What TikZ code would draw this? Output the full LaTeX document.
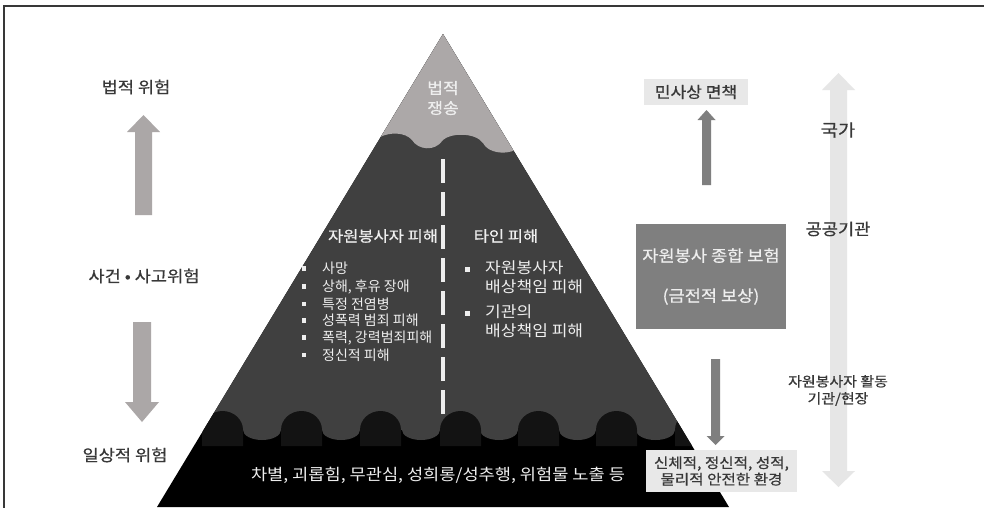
\documentclass[tikz,border=0pt]{standalone}
\usepackage{fontspec}
\newfontfamily\kr{Noto Sans CJK KR}
\newfontfamily\krw[FakeStretch=1.1]{Noto Sans CJK KR}
\newfontfamily\krb[FakeStretch=1.1,FakeBold=0.6]{Noto Sans CJK KR}
\usetikzlibrary{calc}
\definecolor{topgray}{HTML}{ACA8A8}
\definecolor{midgray}{HTML}{404040}
\definecolor{humpc}{HTML}{131313}
\definecolor{arrowgray}{HTML}{ABA7A7}
\definecolor{boxgray}{HTML}{7F7F7F}
\definecolor{lightbox}{HTML}{E8E8E8}
\definecolor{pale}{HTML}{E6E6E6}
\definecolor{txt}{HTML}{383838}
\definecolor{wtxt}{HTML}{EEEEEE}
\newcommand\vblockarrow[6]{%
  \fill[#1] ($(#2)+(-#4,0)$) -- ($(#3)+(-#4,#6)$) -- ($(#3)+(-#5,#6)$) -- (#3)
    -- ($(#3)+(#5,#6)$) -- ($(#3)+(#4,#6)$) -- ($(#2)+(#4,0)$) -- cycle;}
\begin{document}
\begin{tikzpicture}[x=1pt,y=-1pt,
  lab/.style={font=\krb\fontsize{16}{18}\selectfont, text=txt, inner sep=0pt, align=center},
  slab/.style={font=\krb\fontsize{13.6}{17}\selectfont, text=txt, inner sep=0pt, align=center},
  whead/.style={font=\krb\fontsize{15}{18}\selectfont, text=wtxt, inner sep=0pt},
  litem/.style={font=\kr\fontsize{14}{17}\selectfont, text=wtxt, inner sep=0pt, anchor=west},
  ritem/.style={font=\krw\fontsize{15.5}{19}\selectfont, text=wtxt, inner sep=0pt, anchor=west, align=left},
  bul/.style={fill=wtxt, inner sep=0pt, minimum size=4.5pt, rectangle},
  lbox/.style={fill=lightbox, inner sep=0pt, text=txt, align=center}
]
\useasboundingbox (0,0) rectangle (984,507);
\fill[white] (0,0) rectangle (984,507);
% frame
\draw[line width=2.2pt, color=txt] (4,508) -- (4,6) -- (985,6);

% pyramid
\coordinate (apex) at (443,34);
\coordinate (bl) at (157,507);
\coordinate (br) at (729,507);
\begin{scope}
  \clip (apex) -- (br) -- (bl) -- cycle;
  \fill[black] (100,0) rectangle (800,510);
  \fill[midgray] (100,0) rectangle (800,430);
  \foreach \a/\b in {243/281,322/360,402/440,480/518,559/596,636/675}
    \fill[midgray] ({(\a+\b)/2},430) ellipse [x radius={(\b-\a)/2}, y radius=10];
  \foreach \a in {202,281,360,440,518,596,675}
    \fill[humpc] (\a,446) -- (\a,430) .. controls (\a,419.5) and (\a+9.2,411) .. (\a+20.5,411)
      .. controls (\a+31.8,411) and (\a+41,419.5) .. (\a+41,430) -- (\a+41,446) -- cycle;
  \fill[topgray] (300,0) -- (600,0) -- (600,150) -- (515,150)
    .. controls (505,155) and (488,153) .. (483,143)
    .. controls (475,132) and (450,133) .. (443,140)
    .. controls (435,152) and (418,150) .. (412,140)
    .. controls (405,132) and (390,132) .. (380,137) -- (300,137) -- cycle;
\end{scope}

% dashed divider
\coordinate (dtop) at (443,159);
\coordinate (dbot) at (443,415);
\draw[wtxt, line width=4.5pt, dash pattern=on 24pt off 9pt] (dtop) -- (dbot);

% texts inside pyramid
\node[font=\krb\fontsize{15.5}{20}\selectfont, text=wtxt, inner sep=0pt, align=center] (legal) at (443,98) {법적\\쟁송};
\node[whead] (selfh) at (383,236) {자원봉사자 피해};
\node[whead] (othh) at (506,236) {타인 피해};

\node[bul] (lb1) at (304,268.3) {};
\node[bul] (lb2) at (304,286.7) {};
\node[bul] (lb3) at (304,304) {};
\node[bul] (lb4) at (304,320.7) {};
\node[bul] (lb5) at (304,337.7) {};
\node[bul] (lb6) at (304,355) {};
\node[litem] (li1) at (322,268.3) {사망};
\node[litem] (li2) at (322,286.7) {상해, 후유 장애};
\node[litem] (li3) at (322,304) {특정 전염병};
\node[litem] (li4) at (322,320.7) {성폭력 범죄 피해};
\node[litem] (li5) at (322,337.7) {폭력, 강력범죄피해};
\node[litem] (li6) at (322,355) {정신적 피해};

\node[bul, minimum size=5pt] (rb1) at (467,269) {};
\node[bul, minimum size=5pt] (rb2) at (467,313) {};
\node[ritem] (ri1) at (485,277.5) {자원봉사자\\배상책임 피해};
\node[ritem] (ri2) at (485,321.5) {기관의\\배상책임 피해};

\node[font=\krw\fontsize{16}{19}\selectfont, text=wtxt, inner sep=0pt] (bottomtxt) at (438,475)
  {차별, 괴롭힘, 무관심, 성희롱/성추행, 위험물 노출 등};

% left column
\node[lab] (lawrisk) at (136,87) {법적 위험};
\node[lab] (accrisk) at (144,276) {사건 • 사고위험};
\node[lab] (dayrisk) at (125,455) {일상적 위험};
\coordinate (lut) at (143.5,215);
\coordinate (luh) at (143.5,115);
\vblockarrow{arrowgray}{lut}{luh}{8.5}{16.5}{17}
\coordinate (ldt) at (142,322);
\coordinate (ldh) at (142,422);
\vblockarrow{arrowgray}{ldt}{ldh}{9}{17}{-20}

% right column
\coordinate (tt) at (838.5,73);
\coordinate (tb) at (838.5,487);
\fill[pale] (tt) -- ($(tt)+(16.5,17)$) -- ($(tt)+(8.5,17)$) -- ($(tb)+(8.5,-16)$) -- ($(tb)+(16.5,-16)$)
  -- (tb) -- ($(tb)+(-16.5,-16)$) -- ($(tb)+(-8.5,-16)$) -- ($(tt)+(-8.5,17)$) -- ($(tt)+(-16.5,17)$) -- cycle;
\node[lab, font=\krb\fontsize{17}{18}\selectfont] (state) at (838,130) {국가};
\node[lab] (public) at (838,229) {공공기관};
\node[slab] (site) at (838,390.5) {자원봉사자 활동\\기관/현장};

\node[lbox, font=\krb\fontsize{15.5}{18}\selectfont, minimum width=104pt, minimum height=26pt] (civil) at (696,92) {민사상 면책};
\node[fill=boxgray, inner sep=0pt, minimum width=150pt, minimum height=105pt, text=wtxt, align=center,
  font=\krb\fontsize{16}{40}\selectfont] (ins) at (711,276.5) {자원봉사 종합 보험\\(금전적 보상)};
\node[lbox, font=\krb\fontsize{14.2}{16.5}\selectfont, minimum width=151pt, minimum height=42pt] (env) at (721.5,471) {신체적, 정신적, 성적,\\물리적 안전한 환경};

\coordinate (rut) at (706.5,185);
\coordinate (ruh) at (706.5,110);
\vblockarrow{boxgray}{rut}{ruh}{4.5}{9}{10}
\coordinate (rdt) at (715.5,359);
\coordinate (rdh) at (715.5,445);
\vblockarrow{boxgray}{rdt}{rdh}{4.5}{9}{-9}
\end{tikzpicture}
\end{document}
